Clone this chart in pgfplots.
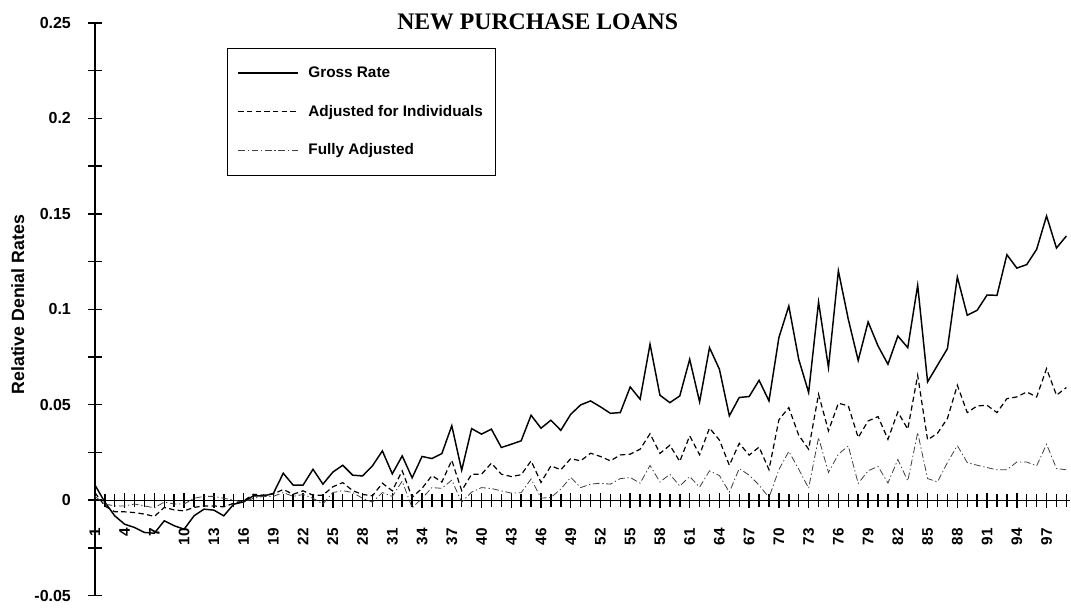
\documentclass[border=0pt]{standalone}
\usepackage{fontspec}
\setmainfont{Liberation Sans}
\newfontfamily\titlefont{Liberation Serif}
\usepackage{pgfplots}
\usepackage{pgfplotstable}
\pgfplotsset{compat=1.18}

% i = category, G = gross rate, A = adjusted for individuals, F = fully adjusted
\pgfplotstableread{
i G A F
1 0.0080 0.0040 0.0020
2 -0.0010 -0.0030 -0.0020
3 -0.0082 -0.0061 -0.0030
4 -0.0126 -0.0061 -0.0030
5 -0.0143 -0.0065 -0.0020
6 -0.0169 -0.0073 -0.0030
7 -0.0173 -0.0085 -0.0040
8 -0.0108 -0.0038 -0.0010
9 -0.0134 -0.0051 -0.0020
10 -0.0152 -0.0056 -0.0020
11 -0.0082 -0.0038 0.0010
12 -0.0047 -0.0030 0.0020
13 -0.0052 -0.0030 0.0020
14 -0.0082 -0.0035 0.0010
15 -0.0021 -0.0016 0.0000
16 -0.0009 -0.0003 -0.0010
17 0.0023 0.0031 0.0010
18 0.0022 0.0026 0.0020
19 0.0035 0.0033 0.0020
20 0.0141 0.0056 0.0040
21 0.0079 0.0031 0.0020
22 0.0079 0.0049 0.0030
23 0.0162 0.0026 0.0010
24 0.0084 0.0026 -0.0020
25 0.0147 0.0070 0.0040
26 0.0183 0.0092 0.0050
27 0.0131 0.0050 0.0040
28 0.0127 0.0030 0.0010
29 0.0180 0.0023 -0.0010
30 0.0258 0.0089 0.0040
31 0.0138 0.0049 0.0020
32 0.0232 0.0154 0.0100
33 0.0117 0.0015 -0.0040
34 0.0229 0.0062 0.0010
35 0.0218 0.0129 0.0066
36 0.0244 0.0095 0.0062
37 0.0390 0.0209 0.0105
38 0.0157 0.0050 -0.0010
39 0.0375 0.0136 0.0042
40 0.0346 0.0136 0.0066
41 0.0372 0.0194 0.0061
42 0.0276 0.0136 0.0049
43 0.0293 0.0124 0.0037
44 0.0311 0.0133 0.0039
45 0.0445 0.0206 0.0111
46 0.0377 0.0093 0.0011
47 0.0419 0.0180 0.0014
48 0.0366 0.0159 0.0058
49 0.0450 0.0218 0.0120
50 0.0499 0.0206 0.0066
51 0.0520 0.0246 0.0084
52 0.0489 0.0229 0.0089
53 0.0455 0.0206 0.0084
54 0.0459 0.0237 0.0113
55 0.0593 0.0241 0.0119
56 0.0529 0.0267 0.0089
57 0.0817 0.0348 0.0182
58 0.0550 0.0245 0.0095
59 0.0511 0.0288 0.0136
60 0.0546 0.0203 0.0074
61 0.0738 0.0337 0.0124
62 0.0515 0.0238 0.0068
63 0.0799 0.0378 0.0154
64 0.0686 0.0315 0.0129
65 0.0442 0.0183 0.0042
66 0.0538 0.0298 0.0166
67 0.0543 0.0236 0.0131
68 0.0628 0.0278 0.0079
69 0.0520 0.0160 0.0014
70 0.0852 0.0421 0.0160
71 0.1017 0.0485 0.0256
72 0.0738 0.0340 0.0162
73 0.0564 0.0267 0.0063
74 0.1038 0.0555 0.0328
75 0.0695 0.0363 0.0145
76 0.1201 0.0508 0.0241
77 0.0948 0.0494 0.0284
78 0.0732 0.0328 0.0088
79 0.0934 0.0415 0.0154
80 0.0808 0.0438 0.0177
81 0.0712 0.0319 0.0090
82 0.0860 0.0462 0.0213
83 0.0799 0.0372 0.0101
84 0.1126 0.0654 0.0354
85 0.0620 0.0316 0.0113
86 0.0707 0.0351 0.0096
87 0.0794 0.0428 0.0197
88 0.1169 0.0602 0.0286
89 0.0969 0.0459 0.0197
90 0.0995 0.0494 0.0183
91 0.1075 0.0497 0.0171
92 0.1073 0.0459 0.0159
93 0.1286 0.0532 0.0159
94 0.1216 0.0541 0.0200
95 0.1234 0.0567 0.0200
96 0.1314 0.0541 0.0180
97 0.1489 0.0689 0.0293
98 0.1321 0.0550 0.0166
99 0.1384 0.0590 0.0159
}\loantable

\begin{document}
\begin{tikzpicture}
\begin{axis}[
    scale only axis,
    width=732pt,
    height=429.75pt,
    clip=false,
    xmin=1, xmax=99.4,
    ymin=-0.05, ymax=0.25,
    axis x line=middle,
    axis y line=left,
    hide obscured x ticks=false,
    axis line style={-, line width=1pt},
    tick align=center,
    major tick length=11pt,
    minor tick length=10pt,
    every tick/.style={black, line width=1.1pt},
    xtick={1,4,...,97},
    minor xtick={1,...,99},
    xticklabels={1,4,7,10,13,16,19,22,25,28,31,34,37,40,43,46,49,52,55,58,61,64,67,70,73,76,79,82,85,88,91,94,97},
    xticklabel style={rotate=90, anchor=east, font=\bfseries\fontsize{11.5}{13}\selectfont},
    xticklabel shift=12pt,
    ytick={-0.05,0,0.05,0.1,0.15,0.2,0.25},
    minor ytick={-0.025,0.025,0.075,0.125,0.175,0.225},
    yticklabels={-0.05,0,0.05,0.1,0.15,0.2,0.25},
    yticklabel style={anchor=east, font=\bfseries\fontsize{12}{14}\selectfont},
    yticklabel shift=9pt,
    ylabel={Relative Denial Rates},
    ylabel style={at={(rel axis cs:-0.079,0.508)}, anchor=center, font=\bfseries\fontsize{13.3}{15}\selectfont},
    legend image code/.code={\draw[#1] (0pt,0pt) -- (45pt,0pt);},
    legend cell align=left,
    legend style={at={(rel axis cs:0.1352,0.9564)}, anchor=north west,
        draw=black, line width=0.8pt, inner xsep=7.75pt, inner ysep=11.7pt,
        row sep=15.2pt, font=\bfseries\fontsize{11.5}{13}\selectfont,
        nodes={inner sep=2pt},
        /tikz/every odd column/.append style={column sep=5pt}},
]
\addplot[black, line width=1.1pt] table[x=i, y=G] {\loantable};
\addlegendentry{Gross Rate}
\addplot[black, line width=0.9pt, dash pattern=on 4pt off 2.5pt] table[x=i, y=A] {\loantable};
\addlegendentry{Adjusted for Individuals}
\addplot[black!75, line width=0.6pt, dash pattern=on 5pt off 2pt on 1pt off 2pt] table[x=i, y=F] {\loantable};
\addlegendentry{Fully Adjusted}
\node[font=\titlefont\bfseries\fontsize{17.8}{20}\selectfont] at (rel axis cs:0.4539,1.0017) {NEW PURCHASE LOANS};
\coordinate (bl) at (rel axis cs:-0.0973,-0.0314);
\coordinate (tr) at (rel axis cs:1,1.0401);
\end{axis}
\path (bl) rectangle (tr);
\end{tikzpicture}
\end{document}
